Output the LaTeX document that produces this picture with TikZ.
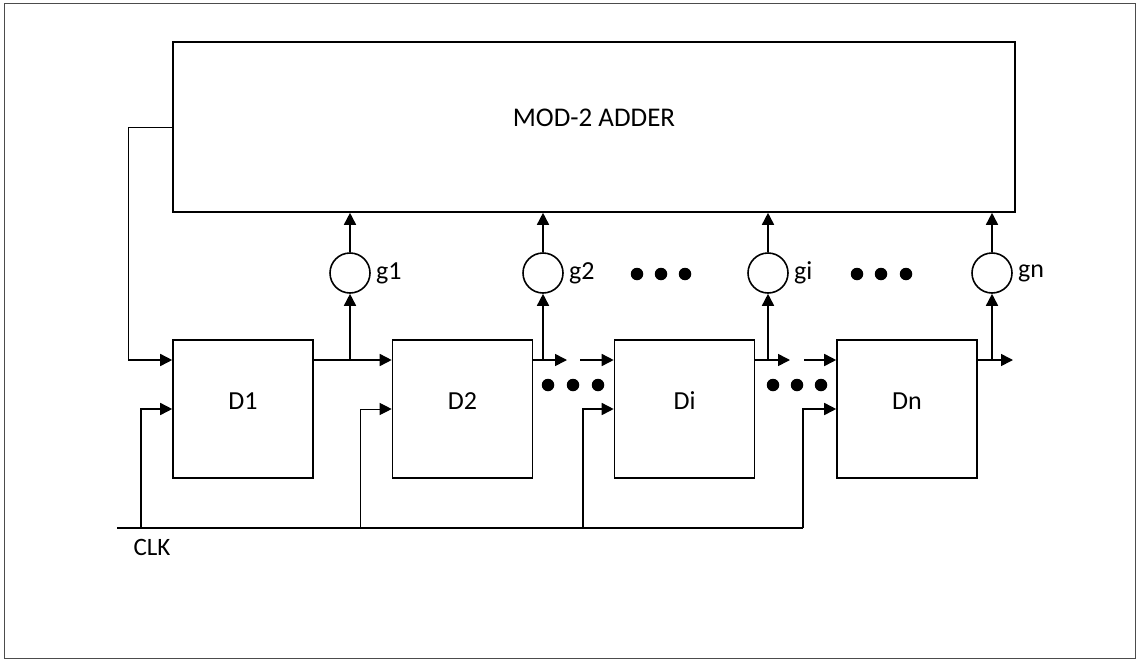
\documentclass[tikz,border=0pt]{standalone}
\usepackage{fontspec}
\setmainfont{Carlito}
\usetikzlibrary{arrows.meta}
\tikzset{
  wire/.style={line width=1.6pt},
  arr/.style={wire, -{Triangle[length=12pt,width=12pt]}},
  thinwire/.style={line width=1pt},
  ffbox/.style={draw, line width=1.6pt, minimum width=140pt, minimum height=138pt, inner sep=0pt, text depth=16pt, font=\fontsize{26}{31}\selectfont},
  addbox/.style={draw, line width=1.6pt, minimum width=842pt, minimum height=170pt, inner sep=0pt, text depth=18pt, font=\fontsize{27}{32}\selectfont},
  gcirc/.style={draw, circle, line width=1.6pt, minimum size=40pt, inner sep=0pt},
  glab/.style={font=\fontsize{26}{31}\selectfont, anchor=west, inner sep=0pt},
  bigdot/.style={fill=black, circle, minimum size=12.5pt, inner sep=0pt},
}
\begin{document}
\begin{tikzpicture}[x=1pt,y=-1pt]
\useasboundingbox (0,0) rectangle (1139,661);
\draw[line width=0.9pt, black!70] (4,3) rectangle (1135,658);

% adder
\node[addbox] (add) at (594,127) {MOD-2 ADDER};

% flip-flops
\node[ffbox] (d1) at (243,409) {D1};
\node[ffbox] (d2) at (462.5,409) {D2};
\node[ffbox] (di) at (684.5,409) {Di};
\node[ffbox] (dn) at (907,409) {Dn};

% coefficient circles
\node[gcirc] (g1) at (350,273) {};
\node[gcirc] (g2) at (543,273) {};
\node[gcirc] (gi) at (768,273) {};
\node[gcirc] (gn) at (992,273) {};
\node[glab] (lg1) at ([xshift=5pt]g1.east) {g1};
\node[glab] (lg2) at ([xshift=5pt]g2.east) {g2};
\node[glab] (lgi) at ([xshift=5pt]gi.east) {gi};
\node[glab] (lgn) at ([xshift=5pt]gn.east) {gn};

% dots
\foreach \x/\y [count=\k] in {637/274,661/274,685/274,857/274,881/274,906/274,548/385,573/385,598/385,773/385,797/385,821/385}
  \node[bigdot] (dot\k) at (\x,\y) {};

% coordinates for data lines
\coordinate (b1) at (350,360);
\coordinate (b2) at (543,360);
\coordinate (bi) at (768,360);
\coordinate (bn) at (992,360);
\coordinate (o2) at (567,360);
\coordinate (i3) at (580,360);
\coordinate (oi) at (790,360);
\coordinate (i4) at (804,360);
\coordinate (on) at (1013,360);
\coordinate (fbc) at (128,127);
\coordinate (fbd) at (128,360);

% feedback
\draw[thinwire] (add.west |- fbc) -- (fbc) -- (fbd);
\draw[arr] (fbd) -- (d1.west |- fbd);

% data path
\draw[wire] (d1.east |- b1) -- (b1);
\draw[arr] (b1) -- (d2.west |- b1);
\draw[arr] (d2.east |- b2) -- (o2);
\draw[arr] (i3) -- (di.west |- i3);
\draw[arr] (di.east |- bi) -- (oi);
\draw[arr] (i4) -- (dn.west |- i4);
\draw[arr] (dn.east |- bn) -- (on);

% taps
\draw[arr] (b1) -- (g1.south);
\draw[arr] (b2) -- (g2.south);
\draw[arr] (bi) -- (gi.south);
\draw[arr] (bn) -- (gn.south);
\draw[arr] (g1.north) -- (g1 |- add.south);
\draw[arr] (g2.north) -- (g2 |- add.south);
\draw[arr] (gi.north) -- (gi |- add.south);
\draw[arr] (gn.north) -- (gn |- add.south);

% clock
\coordinate (clkL) at (117,528);
\coordinate (clkR) at (803,528);
\coordinate (c1) at (141,528);
\coordinate (c2) at (360,528);
\coordinate (c3) at (583,528);
\draw[wire] (clkL) -- (clkR);
\draw[arr] (c1) |- (d1.west);
\draw[arr, thinwire] (c2) |- (d2.west);
\draw[arr] (c3) |- (di.west);
\draw[arr] (clkR) |- (dn.west);
\node[font=\fontsize{25}{30}\selectfont, inner sep=0pt] (clk) at (152,547) {CLK};
\end{tikzpicture}
\end{document}
